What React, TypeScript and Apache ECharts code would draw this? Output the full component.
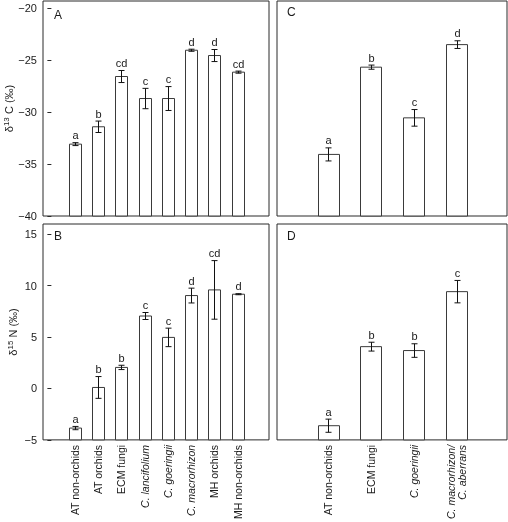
import React, { useEffect, useRef } from 'react';
import * as echarts from 'echarts';

// Categories
const categoriesAB = ['AT non-orchids', 'AT orchids', 'ECM fungi', 'C. lancifolium', 'C. goeringii', 'C. macrorhizon', 'MH orchids', 'MH non-orchids'];
const italicAB = [false, false, false, true, true, true, false, false];
const categoriesCD = ['AT non-orchids', 'ECM fungi', 'C. goeringii', 'C. macrorhizon/\nC. aberrans'];
const italicCD = [false, false, true, true];

// Panel A: δ13C
const d13C_A = [-33.08, -31.41, -26.57, -28.69, -28.69, -24.04, -24.55, -26.15];
const d13C_A_err = [0.14, 0.55, 0.58, 0.98, 1.15, 0.1, 0.58, 0.1];
const letters_A = ['a', 'b', 'cd', 'c', 'c', 'd', 'd', 'cd'];

// Panel B: δ15N
const d15N_B = [-3.85, 0.1, 2.05, 7.05, 4.97, 9.04, 9.59, 9.17];
const d15N_B_err = [0.16, 1.06, 0.21, 0.34, 0.9, 0.72, 2.85, 0.05];
const letters_B = ['a', 'b', 'b', 'c', 'c', 'd', 'cd', 'd'];

// Panel C: δ13C
const d13C_C = [-34.07, -25.67, -30.55, -23.5];
const d13C_C_err = [0.63, 0.2, 0.8, 0.37];
const letters_C = ['a', 'b', 'c', 'd'];

// Panel D: δ15N
const d15N_D = [-3.62, 4.07, 3.69, 9.42];
const d15N_D_err = [0.64, 0.43, 0.66, 1.09];
const letters_D = ['a', 'b', 'b', 'c'];

// Tick labels
const ticksC = [-40, -35, -30, -25, -20];
const ticksN = [-5, 0, 5, 10, 15];

const FONT = 'Liberation Sans, Arial, Helvetica, sans-serif';
const TEXT = '#1a1a1a';
const LINE = '#2a2a2a';

function toData(vals: number[], errs: number[]) {
  return vals.map((v, i) => [i + 1, v, errs[i]]);
}

function makeRender(letters: string[], barW: number) {
  return (params: any, api: any) => {
    const x = api.value(0);
    const y = api.value(1);
    const e = api.value(2);
    const cs = params.coordSys;
    const baseY = cs.y + cs.height;
    const top = api.coord([x, y]);
    const hi = api.coord([x, y + e]);
    const lo = api.coord([x, y - e]);
    const w = api.size([barW, 0])[0];
    const cx = Math.round(top[0]) + 0.5;
    const cap = 3;
    return {
      type: 'group',
      children: [
        {
          type: 'rect',
          shape: { x: Math.round(top[0] - w / 2) + 0.5, y: top[1], width: Math.round(w), height: baseY - top[1] },
          style: { fill: '#fff', stroke: '#3a3a3a', lineWidth: 1 },
        },
        { type: 'line', shape: { x1: cx, y1: hi[1], x2: cx, y2: lo[1] }, style: { stroke: '#111', lineWidth: 1 } },
        { type: 'line', shape: { x1: cx - cap, y1: hi[1], x2: cx + cap, y2: hi[1] }, style: { stroke: '#111', lineWidth: 1 } },
        { type: 'line', shape: { x1: cx - cap, y1: lo[1], x2: cx + cap, y2: lo[1] }, style: { stroke: '#111', lineWidth: 1 } },
        {
          type: 'text',
          x: cx,
          y: hi[1] - 2,
          style: { text: letters[params.dataIndex], align: 'center', verticalAlign: 'bottom', fontSize: 11, fontFamily: FONT, fill: TEXT },
        },
      ],
    };
  };
}

function labelFormatter(names: string[], italic: boolean[]) {
  return (value: number) => {
    const idx = Math.round(value) - 1;
    const name = names[idx] ?? '';
    if (italic[idx]) return name.split('\n').map((l) => `{i|${l}}`).join('\n');
    return `{r|${name}}`;
  };
}

const minus = (v: number) => String(v).replace('-', '\u2212');

export default function App() {
  const ref = useRef<HTMLDivElement>(null);
  useEffect(() => {
    if (!ref.current) return;
    const chart = echarts.init(ref.current, undefined, { renderer: 'svg' });
    const gridBase = { show: true, borderColor: LINE, borderWidth: 1, backgroundColor: 'transparent', containLabel: false };
    const grids = [
      { ...gridBase, left: 43, top: 1, width: 226, height: 215 }, // A
      { ...gridBase, left: 43, top: 224, width: 226, height: 218 }, // B
      { ...gridBase, left: 277, top: 1, width: 230, height: 215 }, // C
      { ...gridBase, left: 277, top: 224, width: 230, height: 218 }, // D
    ];
    const labelRich = {
      r: { fontSize: 10.5, fontFamily: FONT, color: TEXT },
      i: { fontSize: 10.5, fontFamily: FONT, color: TEXT, fontStyle: 'italic' },
    };
    const xHidden = (gi: number, min: number, max: number) => ({
      type: 'value', gridIndex: gi, min, max,
      axisLine: { show: false }, axisTick: { show: false }, splitLine: { show: false },
      axisLabel: { show: false },
    });
    const xShown = (gi: number, min: number, max: number, names: string[], italic: boolean[]) => ({
      type: 'value', gridIndex: gi, min, max,
      axisLine: { show: false }, axisTick: { show: false }, splitLine: { show: false },
      axisLabel: {
        show: true, rotate: 90, margin: 5,
        customValues: names.map((_, i) => i + 1),
        formatter: labelFormatter(names, italic),
        rich: labelRich,
        fontSize: 10.5, fontFamily: FONT, color: TEXT,
      },
    });
    const yAxisShown = (gi: number, min: number, max: number, ticks: number[], nameRich: string) => ({
      type: 'value', gridIndex: gi, min, max,
      axisLine: { show: false },
      splitLine: { show: false },
      axisTick: { show: true, inside: false, length: 4, customValues: ticks, lineStyle: { color: LINE, width: 1 } },
      axisLabel: { show: true, customValues: ticks, margin: 6, fontSize: 11, fontFamily: FONT, color: TEXT, formatter: (v: number) => minus(v) },
      name: nameRich,
      nameLocation: 'middle',
      nameGap: 25,
      nameRotate: 90,
      nameTextStyle: {
        rich: {
          n: { fontSize: 11, fontFamily: FONT, color: TEXT, verticalAlign: 'bottom' },
          s: { fontSize: 8, fontFamily: FONT, color: TEXT, verticalAlign: 'bottom', padding: [0, 0, 4, 0] },
        },
      },
    });
    const yAxisHidden = (gi: number, min: number, max: number) => ({
      type: 'value', gridIndex: gi, min, max,
      axisLine: { show: false }, splitLine: { show: false }, axisTick: { show: false }, axisLabel: { show: false },
    });

    const option: any = {
      animation: false,
      grid: grids,
      xAxis: [
        xHidden(0, -0.36, 9.34),
        xShown(1, -0.36, 9.34, categoriesAB, italicAB),
        xHidden(2, -0.2, 5.18),
        xShown(3, -0.2, 5.18, categoriesCD, italicCD),
      ],
      yAxis: [
        yAxisShown(0, -40, -19.3, ticksC, '{n|δ}{s|13}{n| C (‰)}'),
        yAxisShown(1, -5, 16, ticksN, '{n|δ}{s|15}{n| N (‰)}'),
        yAxisHidden(2, -40, -19.3),
        yAxisHidden(3, -5, 16),
      ],
      series: [
        { type: 'custom', xAxisIndex: 0, yAxisIndex: 0, data: toData(d13C_A, d13C_A_err), renderItem: makeRender(letters_A, 0.515), clip: false },
        { type: 'custom', xAxisIndex: 1, yAxisIndex: 1, data: toData(d15N_B, d15N_B_err), renderItem: makeRender(letters_B, 0.515), clip: false },
        { type: 'custom', xAxisIndex: 2, yAxisIndex: 2, data: toData(d13C_C, d13C_C_err), renderItem: makeRender(letters_C, 0.5), clip: false },
        { type: 'custom', xAxisIndex: 3, yAxisIndex: 3, data: toData(d15N_D, d15N_D_err), renderItem: makeRender(letters_D, 0.5), clip: false },
      ],
      graphic: [
        { type: 'text', x: 54, y: 9, style: { text: 'A', fontSize: 12, fontFamily: FONT, fill: TEXT } },
        { type: 'text', x: 54, y: 230, style: { text: 'B', fontSize: 12, fontFamily: FONT, fill: TEXT } },
        { type: 'text', x: 287, y: 6, style: { text: 'C', fontSize: 12, fontFamily: FONT, fill: TEXT } },
        { type: 'text', x: 287, y: 230, style: { text: 'D', fontSize: 12, fontFamily: FONT, fill: TEXT } },
      ],
    };
    chart.setOption(option);
    return () => chart.dispose();
  }, []);
  return <div ref={ref} style={{ position: 'fixed', left: 0, top: 0, width: 508, height: 522 }} />;
}
